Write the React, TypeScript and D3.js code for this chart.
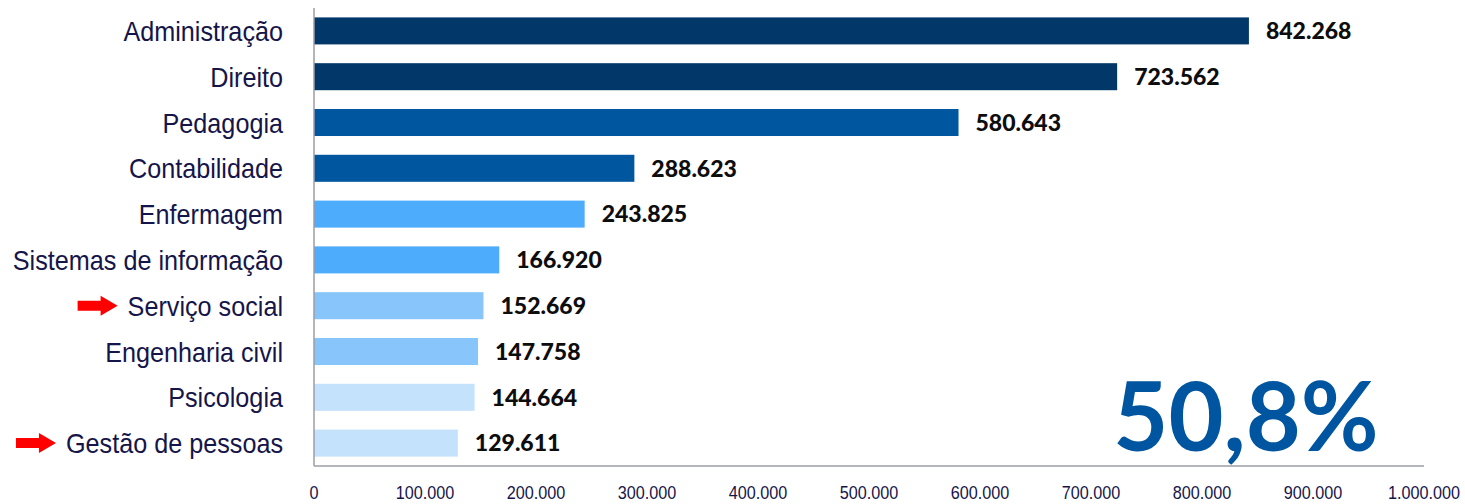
import { useEffect, useRef } from 'react';
import * as d3 from 'd3';

const courses = [
  'Administração',
  'Direito',
  'Pedagogia',
  'Contabilidade',
  'Enfermagem',
  'Sistemas de informação',
  'Serviço social',
  'Engenharia civil',
  'Psicologia',
  'Gestão de pessoas',
];
const enrollments = [842268, 723562, 580643, 288623, 243825, 166920, 152669, 147758, 144664, 129611];
const barColors = [
  '#023869', '#023869', '#0057a0', '#0057a0', '#4dacfc',
  '#4dacfc', '#88c5fa', '#88c5fa', '#c4e2fc', '#c4e2fc',
];
const highlighted = ['Serviço social', 'Gestão de pessoas'];
const xTicks = [0, 100000, 200000, 300000, 400000, 500000, 600000, 700000, 800000, 900000, 1000000];
const shareLabel = '50,8%';

const fmt = d3.formatLocale({ decimal: ',', thousands: '.', grouping: [3], currency: ['R$', ''] }).format(',d');

export default function App() {
  const svgRef = useRef<SVGSVGElement>(null);

  useEffect(() => {
    if (!svgRef.current) return;

    const width = 1465;
    const height = 504;
    const margin = { top: 8, right: 41, bottom: 38, left: 314 };
    // no narrow font installed, so squeeze Liberation Sans horizontally
    const narrow = "'Liberation Sans', Arial, sans-serif";
    const squeeze = 0.9;

    const svg = d3.select(svgRef.current);
    svg.selectAll('*').remove();
    svg.attr('width', width).attr('height', height);

    const x = d3.scaleLinear()
      .domain([0, 1000000])
      .range([margin.left, width - margin.right]);

    const y = d3.scaleBand<string>()
      .domain(courses)
      .range([margin.top, height - margin.bottom])
      .paddingInner(0.41)
      .paddingOuter(0.205);

    // Bars
    svg.append('g')
      .selectAll('rect')
      .data(courses)
      .join('rect')
      .attr('x', x(0))
      .attr('y', d => y(d)!)
      .attr('width', (d, i) => x(enrollments[i]) - x(0))
      .attr('height', y.bandwidth())
      .attr('fill', (d, i) => barColors[i]);

    // Value labels
    svg.append('g')
      .selectAll('text')
      .data(courses)
      .join('text')
      .attr('x', (d, i) => x(enrollments[i]) + 17)
      .attr('y', d => y(d)! + y.bandwidth() / 2)
      .attr('dy', '0.36em')
      .attr('font-family', 'Lato, sans-serif')
      .attr('font-weight', 900)
      .attr('font-size', 23)
      .attr('fill', '#0d0d0d')
      .text((d, i) => fmt(enrollments[i]));

    // Axes lines
    svg.append('line')
      .attr('x1', x(0)).attr('x2', x(0))
      .attr('y1', margin.top).attr('y2', height - margin.bottom)
      .attr('stroke', '#9d9da6').attr('stroke-width', 1.5);
    svg.append('line')
      .attr('x1', x(0)).attr('x2', x(1000000))
      .attr('y1', height - margin.bottom).attr('y2', height - margin.bottom)
      .attr('stroke', '#9d9da6').attr('stroke-width', 1.5);

    // Category labels
    const labelX = x(0) - 31;
    const labels = svg.append('g')
      .selectAll('text')
      .data(courses)
      .join('text')
      .attr('transform', d => `translate(${labelX},${y(d)! + y.bandwidth() / 2}) scale(${squeeze},1)`)
      .attr('dy', '0.36em')
      .attr('text-anchor', 'end')
      .attr('font-family', narrow)
      .attr('font-size', 28)
      .attr('fill', '#15154a')
      .text(d => d);

    // Red arrows before highlighted courses
    labels.each(function (d) {
      if (!highlighted.includes(d)) return;
      const w = (this as SVGTextElement).getComputedTextLength() * squeeze;
      const tip = labelX - w - 10;
      const cy = y(d)! + y.bandwidth() / 2;
      svg.append('path')
        .attr('d', `M${tip - 40},${cy - 5} L${tip - 17},${cy - 5} L${tip - 17},${cy - 10} L${tip},${cy} L${tip - 17},${cy + 10} L${tip - 17},${cy + 5} L${tip - 40},${cy + 5} Z`)
        .attr('fill', '#ff0000');
    });

    // X tick labels
    svg.append('g')
      .selectAll('text')
      .data(xTicks)
      .join('text')
      .attr('transform', d => `translate(${x(d)},499) scale(${squeeze},1)`)
      .attr('text-anchor', 'middle')
      .attr('font-family', narrow)
      .attr('font-size', 18)
      .attr('fill', '#15154a')
      .text(d => fmt(d));

    // Highlight share
    svg.append('text')
      .attr('x', 1246)
      .attr('y', 451)
      .attr('text-anchor', 'middle')
      .attr('font-family', 'Lato, sans-serif')
      .attr('font-weight', 700)
      .attr('font-size', 95)
      .attr('fill', '#0055a0')
      .text(shareLabel);
  }, []);

  return (
    <svg ref={svgRef} style={{ position: 'absolute', left: 0, top: 0, background: '#ffffff' }}></svg>
  );
}
